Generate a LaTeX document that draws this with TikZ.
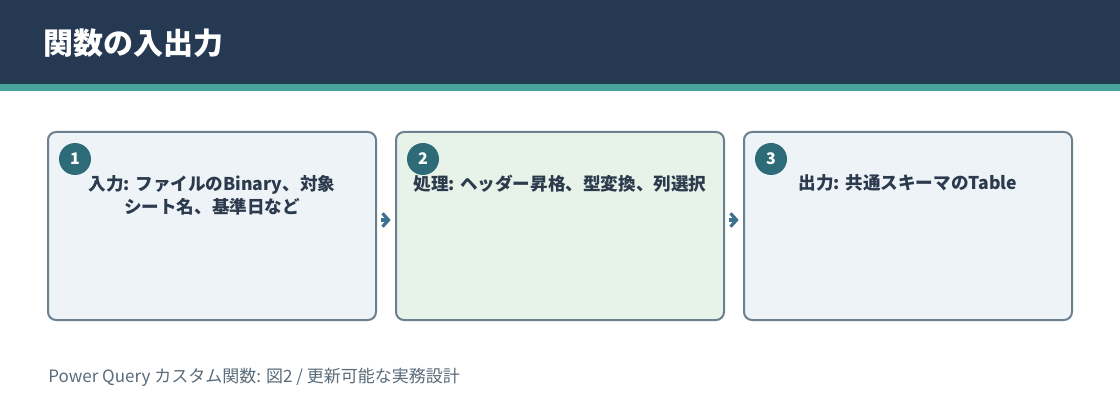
\documentclass[tikz,border=0pt]{standalone}
\usepackage{fontspec}
\setmainfont{Noto Sans CJK JP}
\usetikzlibrary{positioning}
\usetikzlibrary{arrows.meta}

\definecolor{headbg}{HTML}{253A52}
\definecolor{stripe}{HTML}{48A39A}
\definecolor{boxline}{HTML}{6B7F8F}
\definecolor{boxfill}{HTML}{EEF3F8}
\definecolor{greenfill}{HTML}{E7F2E8}
\definecolor{badgec}{HTML}{2E6B78}
\definecolor{arrowc}{HTML}{3E7090}
\definecolor{textc}{HTML}{2B3A4C}
\definecolor{footc}{HTML}{5A6B7A}

\begin{document}
\begin{tikzpicture}
			[x=0.75pt,y=-0.75pt,
			 stage/.style={draw=boxline,fill=boxfill,line width=1.5pt,rounded corners=6pt,
			   minimum width=246pt,minimum height=141pt,inner sep=0pt,outer sep=0pt},
			 badge/.style={circle,fill=badgec,minimum size=24pt,inner sep=0pt,
			   text=white,font=\bfseries\fontsize{12}{14}\selectfont},
			 caption/.style={text=textc,font=\bfseries\fontsize{13.2}{17.25}\selectfont,
			   align=center,inner sep=0pt},
			 connect/.style={draw=arrowc,line width=2.4pt,shorten <=3.75pt,shorten >=4pt,
			   -{Straight Barb[length=4.5pt,width=10pt]}},
			 node distance=15pt]
			\useasboundingbox (0,0) rectangle (1120,420);
			\fill[headbg] (0,0) rectangle (1120,84);
			\fill[stripe] (0,84) rectangle (1120,91);
			\node (title) [anchor=west,text=white,inner sep=0pt,
			  font=\bfseries\fontsize{22.5}{26}\selectfont] at (43,43) {関数の入出力};

			\node (b1) [stage,anchor=north west] at (48,132) {};
			\node (b2) [stage,fill=greenfill,right=of b1] {};
			\node (b3) [stage,right=of b2] {};
			\draw [connect] ([yshift=4.5pt]b1.east) -- ([yshift=4.5pt]b2.west);
			\draw [connect] ([yshift=4.5pt]b2.east) -- ([yshift=4.5pt]b3.west);

			\node (n1) [badge] at ([shift={(20.25pt,-20.25pt)}]b1.north west) {1};
			\node (n2) [badge] at ([shift={(20.25pt,-20.25pt)}]b2.north west) {2};
			\node (n3) [badge] at ([shift={(20.25pt,-20.25pt)}]b3.north west) {3};

			\node (t1) [caption,anchor=north] at ([yshift=-32pt]b1.north)
			  {入力: ファイルのBinary、対象\\シート名、基準日など};
			\node (t2) [caption,anchor=north] at ([yshift=-32pt]b2.north)
			  {処理: ヘッダー昇格、型変換、列選択};
			\node (t3) [caption,anchor=north] at ([yshift=-32pt]b3.north)
			  {出力: 共通スキーマのTable};

			\node (foot) [anchor=west,text=footc,inner sep=0pt,
			  font=\fontsize{12.75}{15}\selectfont] at (48,377)
			  {Power Query カスタム関数: 図2 / 更新可能な実務設計};
		\end{tikzpicture}
\end{document}
